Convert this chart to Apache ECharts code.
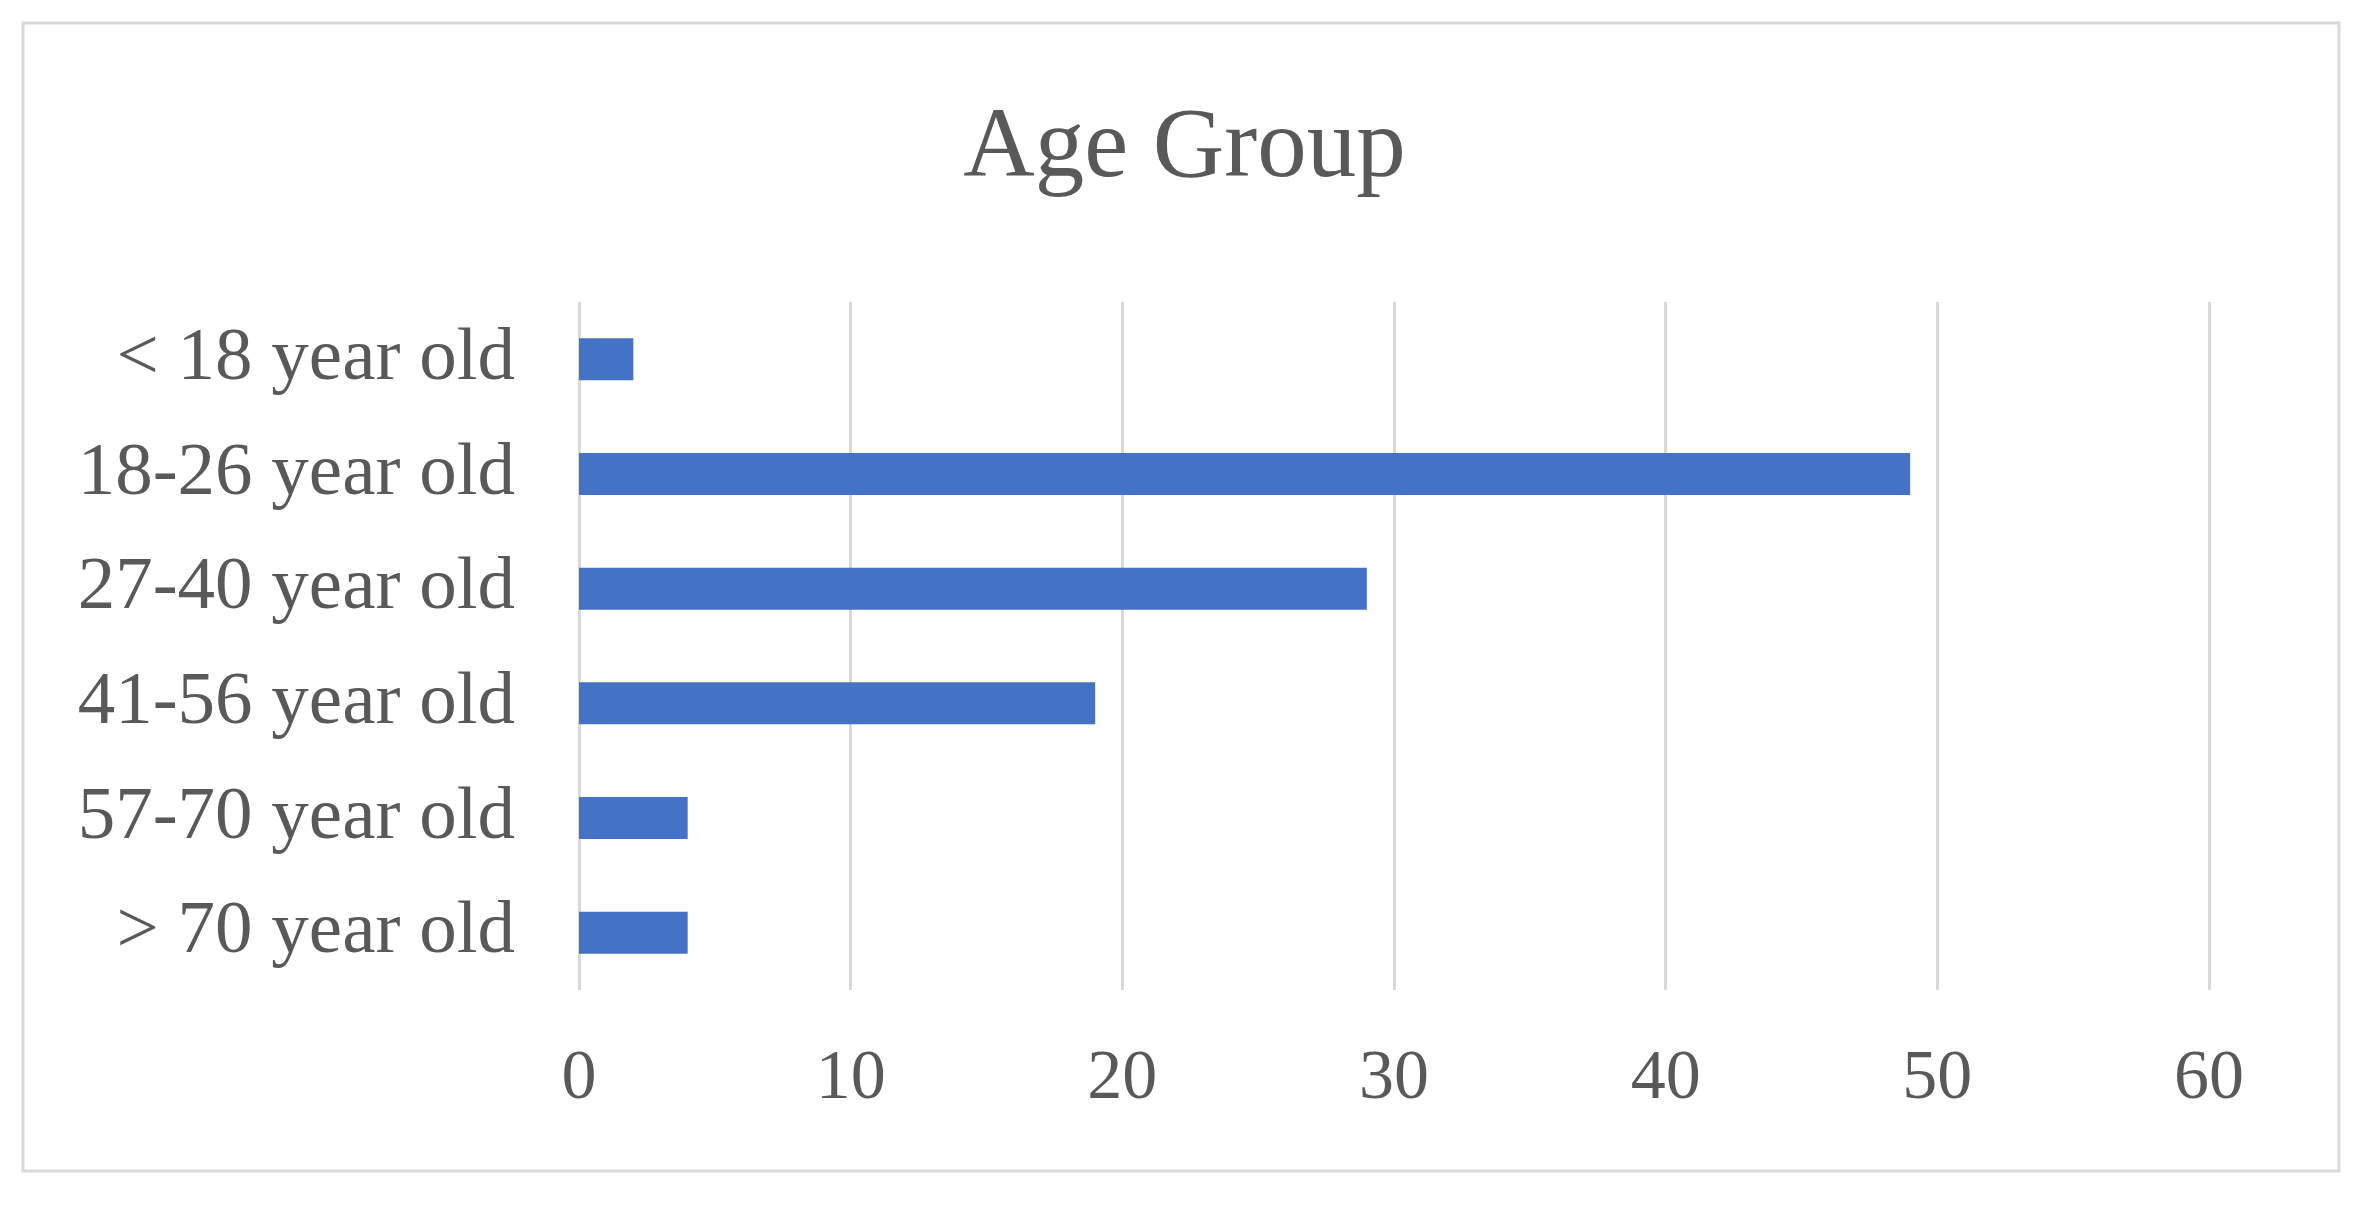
<!DOCTYPE html>
<html>
<head>
<meta charset="utf-8">
<script src="https://cdn.jsdelivr.net/npm/echarts@6/dist/echarts.min.js"></script>
<style>
html,body{margin:0;padding:0;background:#fff;}
#chart{width:2369px;height:1206px;}
</style>
</head>
<body>
<div id="chart"></div>
<script>
const title = "Age Group";
const categories = ["< 18 year old", "18-26 year old", "27-40 year old", "41-56 year old", "57-70 year old", "> 70 year old"];
const values = [2, 49, 29, 19, 4, 4];
const xTicks = [0, 10, 20, 30, 40, 50, 60];

const chart = echarts.init(document.getElementById('chart'), null, {renderer: 'canvas'});
const font = '"Liberation Serif", "Times New Roman", serif';
chart.setOption({
  animation: false,
  backgroundColor: '#ffffff',
  graphic: [{
    type: 'rect',
    shape: {x: 23, y: 23, width: 2316, height: 1148},
    style: {fill: 'none', stroke: '#d9d9d9', lineWidth: 3},
    silent: true
  }],
  title: {
    text: title,
    left: 'center',
    top: 95,
    textStyle: {fontFamily: font, fontSize: 99, fontWeight: 'normal', color: '#595959'}
  },
  grid: {left: 579, right: 160, top: 302, bottom: 216, containLabel: false},
  xAxis: {
    type: 'value',
    min: xTicks[0],
    max: xTicks[xTicks.length - 1],
    interval: xTicks[1] - xTicks[0],
    axisLine: {show: false},
    axisTick: {show: false},
    splitLine: {show: true, lineStyle: {color: '#d9d9d9', width: 3}},
    axisLabel: {margin: 55, fontFamily: font, fontSize: 70, color: '#595959'}
  },
  yAxis: {
    type: 'category',
    data: categories,
    inverse: true,
    axisLine: {show: false},
    axisTick: {show: false},
    axisLabel: {margin: 64, fontFamily: font, fontSize: 75, color: '#595959', padding: [6, 0, 0, 0]}
  },
  series: [{
    type: 'bar',
    data: values,
    barWidth: 42,
    itemStyle: {color: '#4472C4'}
  }]
});
</script>
</body>
</html>
